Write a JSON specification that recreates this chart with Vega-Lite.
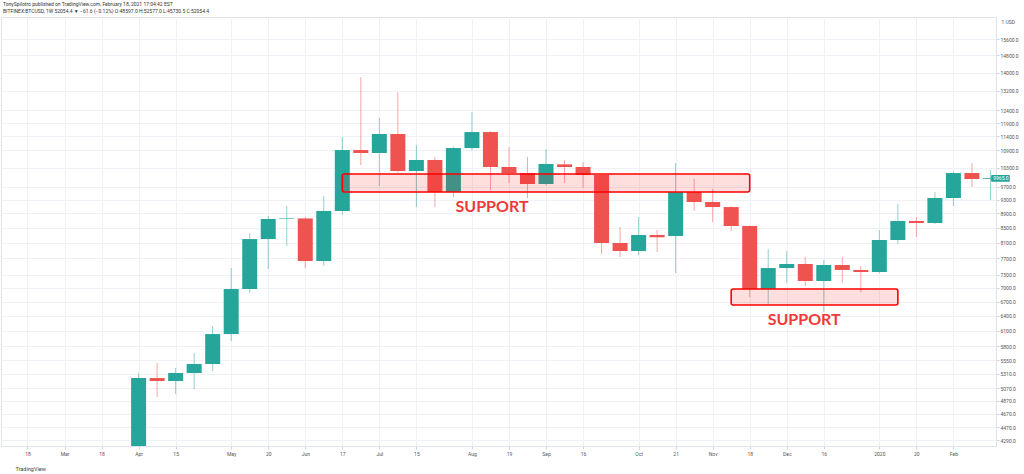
{
  "$schema": "https://vega.github.io/schema/vega-lite/v6.json",
  "width": 995,
  "height": 429,
  "autosize": {"type": "none"},
  "padding": {"left": 1, "top": 17, "right": 28, "bottom": 28},
  "background": "#ffffff",
  "config": {"view": {"stroke": "#e0e3eb", "strokeWidth": 1}, "font": "Roboto"},
  "title": {
    "text": "TonySpilotro published on TradingView.com, February 18, 2021 17:04:42 EST",
    "subtitle": "BITFINEX:BTCUSD, 1W  52054.4 ▼ −61.6 (−0.12%)  O:48597.0  H:52577.0  L:45730.5  C:52054.4",
    "anchor": "start",
    "frame": "group",
    "fontSize": 5,
    "fontWeight": "normal",
    "subtitleFontSize": 5,
    "color": "#333333",
    "subtitleColor": "#333333",
    "offset": 3,
    "subtitlePadding": 2,
    "dx": 2
  },
  "datasets": {
    "candles": [
      {"date": "2019-04-01", "open": 4120, "high": 5323, "low": 4100, "close": 5237},
      {"date": "2019-04-08", "open": 5237, "high": 5497, "low": 4927, "close": 5187},
      {"date": "2019-04-15", "open": 5187, "high": 5409, "low": 4975, "close": 5323},
      {"date": "2019-04-22", "open": 5323, "high": 5677, "low": 5054, "close": 5479},
      {"date": "2019-04-29", "open": 5479, "high": 6192, "low": 5357, "close": 6034},
      {"date": "2019-05-06", "open": 6034, "high": 7463, "low": 5900, "close": 6975},
      {"date": "2019-05-13", "open": 6975, "high": 8354, "low": 6886, "close": 8193},
      {"date": "2019-05-20", "open": 8193, "high": 8824, "low": 7440, "close": 8739},
      {"date": "2019-05-27", "open": 8739, "high": 9112, "low": 8011, "close": 8755},
      {"date": "2019-06-03", "open": 8755, "high": 8800, "low": 7463, "close": 7633},
      {"date": "2019-06-10", "open": 7633, "high": 9410, "low": 7511, "close": 8967},
      {"date": "2019-06-17", "open": 8967, "high": 11379, "low": 8862, "close": 10912},
      {"date": "2019-06-24", "open": 10912, "high": 13804, "low": 10397, "close": 10808},
      {"date": "2019-07-01", "open": 10808, "high": 12098, "low": 9719, "close": 11489},
      {"date": "2019-07-08", "open": 11489, "high": 13152, "low": 10150, "close": 10199},
      {"date": "2019-07-15", "open": 10199, "high": 11089, "low": 9082, "close": 10567},
      {"date": "2019-07-22", "open": 10567, "high": 10670, "low": 9082, "close": 9532},
      {"date": "2019-07-29", "open": 9532, "high": 11030, "low": 9380, "close": 10982},
      {"date": "2019-08-05", "open": 10982, "high": 12332, "low": 10900, "close": 11563},
      {"date": "2019-08-12", "open": 11563, "high": 11600, "low": 9594, "close": 10332},
      {"date": "2019-08-19", "open": 10332, "high": 11018, "low": 9812, "close": 10133},
      {"date": "2019-08-26", "open": 10133, "high": 10669, "low": 9350, "close": 9781},
      {"date": "2019-09-02", "open": 9781, "high": 10948, "low": 9740, "close": 10432},
      {"date": "2019-09-09", "open": 10420, "high": 10567, "low": 9812, "close": 10332},
      {"date": "2019-09-16", "open": 10332, "high": 10499, "low": 9657, "close": 10068},
      {"date": "2019-09-23", "open": 10068, "high": 10100, "low": 7808, "close": 8089},
      {"date": "2019-09-30", "open": 8089, "high": 8516, "low": 7731, "close": 7883},
      {"date": "2019-10-07", "open": 7883, "high": 8795, "low": 7780, "close": 8300},
      {"date": "2019-10-14", "open": 8300, "high": 8433, "low": 7858, "close": 8240},
      {"date": "2019-10-21", "open": 8273, "high": 10466, "low": 7345, "close": 9532},
      {"date": "2019-10-28", "open": 9532, "high": 9941, "low": 8967, "close": 9231},
      {"date": "2019-11-04", "open": 9231, "high": 9625, "low": 8655, "close": 9082},
      {"date": "2019-11-11", "open": 9082, "high": 9112, "low": 8407, "close": 8544},
      {"date": "2019-11-18", "open": 8544, "high": 8560, "low": 6798, "close": 6975},
      {"date": "2019-11-25", "open": 6975, "high": 7935, "low": 6625, "close": 7463},
      {"date": "2019-12-02", "open": 7463, "high": 7883, "low": 7112, "close": 7560},
      {"date": "2019-12-09", "open": 7560, "high": 7731, "low": 7044, "close": 7158},
      {"date": "2019-12-16", "open": 7158, "high": 7657, "low": 6478, "close": 7536},
      {"date": "2019-12-23", "open": 7536, "high": 7731, "low": 7112, "close": 7417},
      {"date": "2019-12-30", "open": 7417, "high": 7511, "low": 6908, "close": 7368},
      {"date": "2020-01-06", "open": 7368, "high": 8433, "low": 7340, "close": 8168},
      {"date": "2020-01-13", "open": 8168, "high": 9171, "low": 8064, "close": 8683},
      {"date": "2020-01-20", "open": 8683, "high": 8795, "low": 8246, "close": 8627},
      {"date": "2020-01-27", "open": 8627, "high": 9532, "low": 8600, "close": 9350},
      {"date": "2020-02-03", "open": 9350, "high": 10180, "low": 9112, "close": 10133},
      {"date": "2020-02-10", "open": 10133, "high": 10466, "low": 9688, "close": 9941},
      {"date": "2020-02-17", "open": 9941, "high": 10232, "low": 9291, "close": 9965}
    ],
    "zones": [
      {"start": "2019-06-17", "end": "2019-11-18", "top": 10101, "bottom": 9532},
      {"start": "2019-11-11", "end": "2020-01-13", "top": 6975, "bottom": 6625}
    ],
    "labels": [
      {"date": "2019-08-12T14:00:00Z", "price": 9082, "text": "SUPPORT"},
      {"date": "2019-12-08T14:00:00Z", "price": 6310, "text": "SUPPORT"}
    ],
    "lastprice": [
      {"date": "2020-02-17", "price": 9965, "text": "9965.0"}
    ]
  },
  "layer": [
    {
      "data": {"name": "candles"},
      "mark": {"type": "rule", "clip": true, "strokeWidth": 1, "opacity": 0.5},
      "encoding": {
        "x": {
          "field": "date",
          "type": "temporal",
          "scale": {
            "type": "utc",
            "domain": [
              {"year": 2019, "month": "feb", "date": 9, "hours": 21, "utc": true},
              {"year": 2020, "month": "feb", "date": 17, "hours": 5, "utc": true}
            ]
          },
          "axis": {
            "values": [
              {"year": 2019, "month": "feb", "date": 18, "utc": true},
              {"year": 2019, "month": "mar", "date": 4, "utc": true},
              {"year": 2019, "month": "mar", "date": 18, "utc": true},
              {"year": 2019, "month": "apr", "date": 1, "utc": true},
              {"year": 2019, "month": "apr", "date": 15, "utc": true},
              {"year": 2019, "month": "may", "date": 6, "utc": true},
              {"year": 2019, "month": "may", "date": 20, "utc": true},
              {"year": 2019, "month": "jun", "date": 3, "utc": true},
              {"year": 2019, "month": "jun", "date": 17, "utc": true},
              {"year": 2019, "month": "jul", "date": 1, "utc": true},
              {"year": 2019, "month": "jul", "date": 15, "utc": true},
              {"year": 2019, "month": "aug", "date": 5, "utc": true},
              {"year": 2019, "month": "aug", "date": 19, "utc": true},
              {"year": 2019, "month": "sep", "date": 2, "utc": true},
              {"year": 2019, "month": "sep", "date": 16, "utc": true},
              {"year": 2019, "month": "oct", "date": 7, "utc": true},
              {"year": 2019, "month": "oct", "date": 21, "utc": true},
              {"year": 2019, "month": "nov", "date": 4, "utc": true},
              {"year": 2019, "month": "nov", "date": 18, "utc": true},
              {"year": 2019, "month": "dec", "date": 2, "utc": true},
              {"year": 2019, "month": "dec", "date": 16, "utc": true},
              {"year": 2020, "month": "jan", "date": 6, "utc": true},
              {"year": 2020, "month": "jan", "date": 20, "utc": true},
              {"year": 2020, "month": "feb", "date": 3, "utc": true}
            ],
            "labelExpr": "utcdate(datum.value) <= 7 ? (utcmonth(datum.value) == 0 ? utcFormat(datum.value, '%Y') : utcFormat(datum.value, '%b')) : utcFormat(datum.value, '%-d')",
            "labelFontSize": 5,
            "labelColor": "#555555",
            "labelPadding": 2,
            "labelOverlap": false,
            "labelFlush": false,
            "tickSize": 3,
            "tickColor": "#d0d3da",
            "domainColor": "#e0e3eb",
            "grid": true,
            "gridColor": "#eef1f6",
            "title": "TradingView",
            "titleFontSize": 5.5,
            "titleFontWeight": "normal",
            "titleColor": "#444444",
            "titleAnchor": "start",
            "titleAlign": "left",
            "titleX": 14,
            "titleY": 20
          }
        },
        "y": {
          "field": "low",
          "type": "quantitative",
          "scale": {"type": "log", "domain": [4208, 16746], "nice": false, "zero": false},
          "axis": {
            "orient": "right",
            "values": [15600, 14800, 14000, 13200, 12400, 11900, 11400, 10900, 10300, 9700, 9300, 8900, 8500, 8100, 7700, 7300, 7000, 6700, 6400, 6100, 5800, 5550, 5310, 5070, 4870, 4670, 4470, 4290],
            "format": ".1f",
            "labelFontSize": 5,
            "labelColor": "#555555",
            "labelPadding": 1,
            "labelOverlap": false,
            "labelFlush": false,
            "tickSize": 3,
            "tickColor": "#d0d3da",
            "domainColor": "#e0e3eb",
            "grid": true,
            "gridColor": "#eef1f6",
            "title": "1  USD",
            "titleAngle": 0,
            "titleFontSize": 5,
            "titleFontWeight": "normal",
            "titleColor": "#555555",
            "titleAlign": "left",
            "titleX": 5,
            "titleY": 7
          }
        },
        "y2": {"field": "high"},
        "color": {
          "condition": {"test": "datum.open <= datum.close", "value": "#26a69a"},
          "value": "#ef5350"
        }
      }
    },
    {
      "data": {"name": "candles"},
      "mark": {"type": "bar", "clip": true, "size": 15},
      "encoding": {
        "x": {"field": "date", "type": "temporal"},
        "y": {"field": "open", "type": "quantitative"},
        "y2": {"field": "close"},
        "color": {
          "condition": {"test": "datum.open <= datum.close", "value": "#26a69a"},
          "value": "#ef5350"
        }
      }
    },
    {
      "data": {"name": "zones"},
      "mark": {"type": "rect", "fill": "#ff0000", "fillOpacity": 0.13, "stroke": "#ff0000", "strokeWidth": 1.6, "cornerRadius": 2},
      "encoding": {
        "x": {"field": "start", "type": "temporal"},
        "x2": {"field": "end"},
        "y": {"field": "top", "type": "quantitative"},
        "y2": {"field": "bottom"}
      }
    },
    {
      "data": {"name": "labels"},
      "mark": {"type": "text", "font": "Lato", "fontSize": 16, "fontWeight": "bold", "color": "#f03a3a", "align": "center", "baseline": "middle"},
      "encoding": {
        "x": {"field": "date", "type": "temporal"},
        "y": {"field": "price", "type": "quantitative"},
        "text": {"field": "text"}
      }
    },
    {
      "data": {"name": "lastprice"},
      "mark": {"type": "rect", "clip": false, "fill": "#26a69a", "cornerRadius": 1},
      "encoding": {
        "x": {"datum": {"year": 2020, "month": "feb", "date": 17, "hours": 6, "utc": true}, "type": "temporal"},
        "x2": {"datum": {"year": 2020, "month": "feb", "date": 24, "hours": 8, "utc": true}},
        "y": {"datum": 10073, "type": "quantitative"},
        "y2": {"datum": 9849}
      }
    },
    {
      "data": {"name": "lastprice"},
      "mark": {"type": "text", "clip": false, "color": "#ffffff", "fontSize": 5, "align": "center", "baseline": "middle"},
      "encoding": {
        "x": {"datum": {"year": 2020, "month": "feb", "date": 20, "hours": 23, "utc": true}, "type": "temporal"},
        "y": {"field": "price", "type": "quantitative"},
        "text": {"field": "text"}
      }
    }
  ]
}
